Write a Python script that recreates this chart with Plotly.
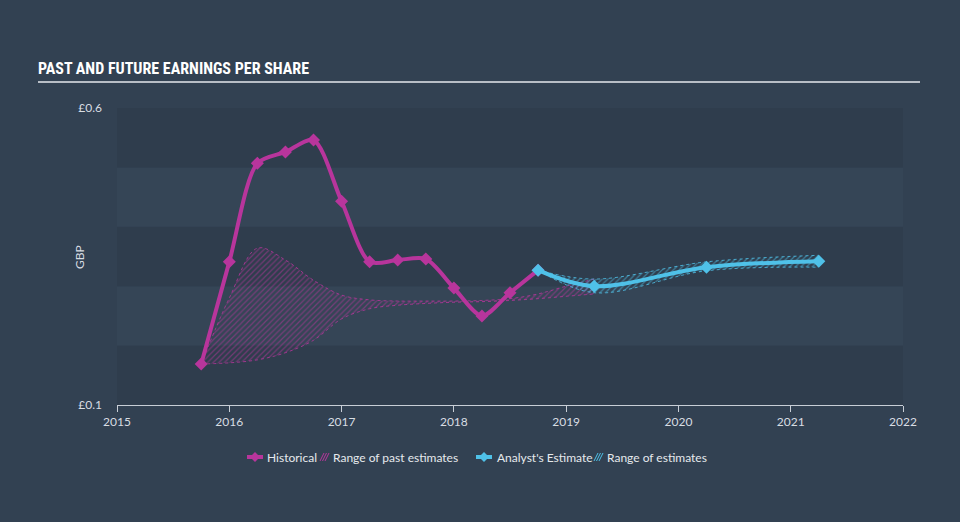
import plotly.graph_objects as go

# Historical EPS (quarterly)
hist_x = [2015.75, 2016.0, 2016.25, 2016.5, 2016.75, 2017.0, 2017.25, 2017.5,
          2017.75, 2018.0, 2018.25, 2018.5, 2018.75]
hist_y = [0.169, 0.341, 0.507, 0.526, 0.546, 0.443, 0.341, 0.344,
          0.346, 0.297, 0.250, 0.289, 0.327]

# Range of past estimates
past_x = [2015.75, 2016.0, 2016.25, 2016.5, 2016.75, 2017.0, 2017.25, 2017.5,
          2017.75, 2018.0, 2018.25, 2018.5, 2018.75, 2019.0, 2019.25]
past_hi = [0.169, 0.28, 0.364, 0.344, 0.31, 0.285, 0.277, 0.275,
           0.275, 0.275, 0.276, 0.279, 0.287, 0.300, 0.312]
past_lo = [0.169, 0.171, 0.176, 0.188, 0.209, 0.245, 0.262, 0.268,
           0.271, 0.273, 0.274, 0.276, 0.279, 0.283, 0.287]

# Analyst estimates
est_x = [2018.75, 2019.25, 2020.25, 2021.25]
est_y = [0.327, 0.300, 0.332, 0.342]
est_hi = [0.327, 0.312, 0.341, 0.352]
est_lo = [0.327, 0.289, 0.326, 0.332]

years = [2015, 2016, 2017, 2018, 2019, 2020, 2021, 2022]
year_labels = [str(y) for y in years]
y_ticks = [0.1, 0.6]
y_labels = ["£0.1", "£0.6"]
legend_labels = ["Historical", "Range of past estimates", "Analyst's Estimate", "Range of estimates"]

MAG = "#b8359c"
CYAN = "#4fc1e8"
BG = "#324152"
DARK = "#2f3d4d"
LIGHT = "#354556"
TXT = "#d8dde3"

# pixel helpers for the plot area (l=117, r=903, t=108, b=405)
def px(xp):
    return (xp - 117) / 786.0

def py(yp):
    return (405 - yp) / 297.0

fig = go.Figure()

fig.add_trace(go.Scatter(x=past_x, y=past_lo, mode="lines",
                         line=dict(color=MAG, width=0.8, dash="dot", shape="spline"),
                         showlegend=False, hoverinfo="skip"))
fig.add_trace(go.Scatter(x=past_x, y=past_hi, mode="lines",
                         line=dict(color=MAG, width=0.8, dash="dot", shape="spline"),
                         fill="tonexty", fillcolor="rgba(184,53,156,0.14)",
                         fillpattern=dict(shape="/", fgcolor=MAG, bgcolor="rgba(0,0,0,0)", size=4, solidity=0.3),
                         showlegend=False, hoverinfo="skip"))

fig.add_trace(go.Scatter(x=est_x, y=est_lo, mode="lines",
                         line=dict(color=CYAN, width=0.8, dash="dot", shape="spline"),
                         showlegend=False, hoverinfo="skip"))
fig.add_trace(go.Scatter(x=est_x, y=est_hi, mode="lines",
                         line=dict(color=CYAN, width=0.8, dash="dot", shape="spline"),
                         fill="tonexty", fillcolor="rgba(79,193,232,0.10)",
                         fillpattern=dict(shape="/", fgcolor=CYAN, bgcolor="rgba(0,0,0,0)", size=4, solidity=0.3),
                         showlegend=False, hoverinfo="skip"))

fig.add_trace(go.Scatter(x=hist_x, y=hist_y, mode="lines+markers", name=legend_labels[0],
                         line=dict(color=MAG, width=4, shape="spline", smoothing=0.8),
                         marker=dict(symbol="diamond", size=10, color=MAG), showlegend=False))
fig.add_trace(go.Scatter(x=est_x, y=est_y, mode="lines+markers", name=legend_labels[2],
                         line=dict(color=CYAN, width=4, shape="spline", smoothing=1.0),
                         marker=dict(symbol="diamond", size=10, color=CYAN), showlegend=False))

shapes = []
for i, (y0, y1) in enumerate([(0.1, 0.2), (0.2, 0.3), (0.3, 0.4), (0.4, 0.5), (0.5, 0.6)]):
    shapes.append(dict(type="rect", xref="x", yref="y", x0=2015, x1=2022, y0=y0, y1=y1,
                       fillcolor=DARK if i % 2 == 0 else LIGHT, line=dict(width=0), layer="below"))
# title underline
shapes.append(dict(type="line", xref="paper", yref="paper", x0=px(38), x1=px(920), y0=py(82), y1=py(82),
                   line=dict(color="#b8bec6", width=2)))

# custom legend
LY = 457
def diamond_icon(cx, color):
    shapes.append(dict(type="line", xref="paper", yref="paper", x0=px(cx - 8), x1=px(cx + 8),
                       y0=py(LY), y1=py(LY), line=dict(color=color, width=4)))
    d = 5
    path = "M {} {} L {} {} L {} {} L {} {} Z".format(
        px(cx), py(LY - d), px(cx + d), py(LY), px(cx), py(LY + d), px(cx - d), py(LY))
    shapes.append(dict(type="path", xref="paper", yref="paper", path=path,
                       fillcolor=color, line=dict(color=color, width=0)))

def hatch_icon(x0, color):
    for k in range(3):
        xa = x0 + k * 2.5
        shapes.append(dict(type="line", xref="paper", yref="paper",
                           x0=px(xa), x1=px(xa + 4), y0=py(LY + 4), y1=py(LY - 4),
                           line=dict(color=color, width=1)))

diamond_icon(255, MAG)
hatch_icon(320, MAG)
diamond_icon(484, CYAN)
hatch_icon(594, CYAN)

annotations = []
for xt, label in [(265, legend_labels[0]), (331, legend_labels[1]), (495, legend_labels[2]), (605, legend_labels[3])]:
    annotations.append(dict(xref="paper", yref="paper", x=px(xt), y=py(LY), text=label,
                            showarrow=False, xanchor="left", yanchor="middle",
                            font=dict(size=12, color="#e6e9ed", family="Lato, sans-serif")))
annotations.append(dict(xref="paper", yref="paper", x=px(79), y=py(257), text="GBP", textangle=-90,
                        showarrow=False, xanchor="center", yanchor="middle",
                        font=dict(size=12, color=TXT)))

fig.update_layout(
    width=960, height=522,
    paper_bgcolor=BG, plot_bgcolor=BG,
    margin=dict(l=117, r=57, t=108, b=117),
    shapes=shapes,
    annotations=annotations,
    font=dict(family="Lato, Roboto, sans-serif", color=TXT, size=12),
    title=dict(text="<b>PAST AND FUTURE EARNINGS PER SHARE</b>", x=38/960, xanchor="left",
               y=1 - 68/522, yanchor="middle",
               font=dict(family="'Liberation Sans Narrow', 'Roboto Condensed', 'DejaVu Sans Condensed', sans-serif",
                         size=16, color="#ffffff")),
    xaxis=dict(range=[2015, 2022], tickvals=years, ticktext=year_labels,
               showgrid=False, zeroline=False, showline=True, linecolor="#c8ced6", linewidth=1,
               ticks="outside", ticklen=6, tickcolor="#c8ced6", tickfont=dict(size=12, color=TXT)),
    yaxis=dict(range=[0.1, 0.6], tickvals=y_ticks, ticktext=y_labels,
               showgrid=False, zeroline=False, showline=False, ticks="", ticklabelstandoff=14,
               tickfont=dict(size=12, color=TXT)),
    showlegend=False,
)

fig.write_html("out.html", config={"displayModeBar": False},
               post_script="document.body.style.margin='0';document.body.style.background='" + BG + "';")
